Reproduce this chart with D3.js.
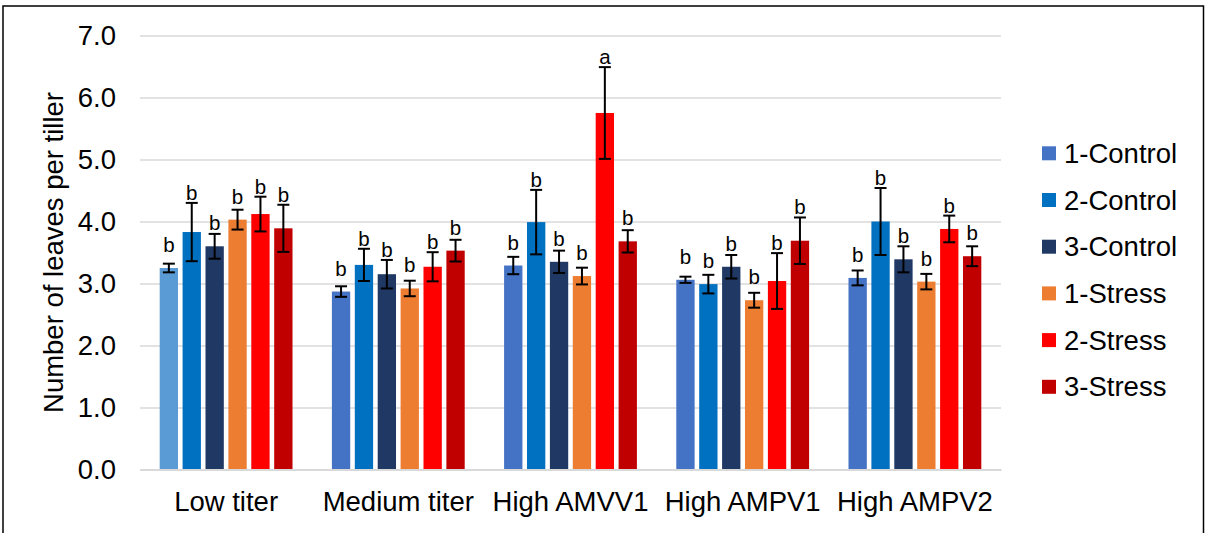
<!DOCTYPE html>
<html>
<head>
<meta charset="utf-8">
<script src="https://cdn.jsdelivr.net/npm/d3@7"></script>
<style>
  html, body { margin: 0; padding: 0; background: #fff; }
  svg { display: block; font-family: Arial, "Liberation Sans", sans-serif; }
</style>
</head>
<body>
<svg id="chart" width="1206" height="533"></svg>
<script>
// ---- data ----
const categories = ["Low titer", "Medium titer", "High AMVV1", "High AMPV1", "High AMPV2"];
const seriesNames = ["1-Control", "2-Control", "3-Control", "1-Stress", "2-Stress", "3-Stress"];
const control1 = [3.25, 2.87, 3.29, 3.06, 3.09];
const control2 = [3.83, 3.30, 3.99, 2.99, 4.00];
const control3 = [3.60, 3.15, 3.35, 3.27, 3.39];
const stress1  = [4.03, 2.92, 3.12, 2.73, 3.03];
const stress2  = [4.12, 3.27, 5.75, 3.04, 3.88];
const stress3  = [3.89, 3.53, 3.68, 3.69, 3.44];
const control1Err = [0.07, 0.085, 0.14, 0.05, 0.12];
const control2Err = [0.47, 0.26, 0.52, 0.15, 0.54];
const control3Err = [0.20, 0.23, 0.18, 0.19, 0.21];
const stress1Err  = [0.16, 0.125, 0.135, 0.12, 0.125];
const stress2Err  = [0.28, 0.235, 0.74, 0.45, 0.215];
const stress3Err  = [0.38, 0.175, 0.18, 0.375, 0.16];
const control1Sig = ["b", "b", "b", "b", "b"];
const control2Sig = ["b", "b", "b", "b", "b"];
const control3Sig = ["b", "b", "b", "b", "b"];
const stress1Sig  = ["b", "b", "b", "b", "b"];
const stress2Sig  = ["b", "b", "a", "b", "b"];
const stress3Sig  = ["b", "b", "b", "b", "b"];
const yTicks = [0, 1, 2, 3, 4, 5, 6, 7];
const yTitle = "Number of leaves per tiller";

// ---- styles ----
const colors = ["#4472C4", "#0070C0", "#203864", "#ED7D31", "#FF0000", "#C00000"];
const firstBarColorLowTiter = "#5B9BD5";
const bigFont = "27.5px";

const seriesValues = [control1, control2, control3, stress1, stress2, stress3];
const seriesErrs = [control1Err, control2Err, control3Err, stress1Err, stress2Err, stress3Err];
const seriesSig = [control1Sig, control2Sig, control3Sig, stress1Sig, stress2Sig, stress3Sig];

const rows = [];
categories.forEach((c, ci) => {
  seriesNames.forEach((s, si) => {
    rows.push({cat: c, ci, series: s, si, value: seriesValues[si][ci], err: seriesErrs[si][ci], sig: seriesSig[si][ci]});
  });
});

const svg = d3.select("#chart");

// border
svg.append("rect").attr("x", 3).attr("y", 6).attr("width", 1200.5).attr("height", 540)
  .attr("fill", "none").attr("stroke", "#000").attr("stroke-width", 1.5);

const plot = {left: 140, right: 1001, top: 35.5, bottom: 469.5};

const x0 = d3.scaleBand().domain(categories).range([plot.left, plot.right]).paddingInner(0).paddingOuter(0);
const x1 = d3.scaleBand().domain(seriesNames).range([0, x0.bandwidth()]).paddingInner(0.2).paddingOuter(0.86);
const y = d3.scaleLinear().domain([0, 7]).range([plot.bottom, plot.top]);

// gridlines
const yAxis = d3.axisLeft(y).tickValues(yTicks).tickFormat(d3.format(".1f"))
  .tickSize(-(plot.right - plot.left)).tickPadding(24);
const gy = svg.append("g").attr("transform", `translate(${plot.left},0)`).call(yAxis);
gy.select(".domain").remove();
gy.selectAll(".tick line").attr("stroke", "#D9D9D9").attr("stroke-width", 1.5);
gy.selectAll(".tick text").attr("fill", "#000").style("font-size", bigFont)
  .attr("font-family", "Arial, 'Liberation Sans', sans-serif");

// bars
const g = svg.append("g");
g.selectAll("rect.bar").data(rows).join("rect").attr("class", "bar")
  .attr("x", d => x0(d.cat) + x1(d.series))
  .attr("width", x1.bandwidth())
  .attr("y", d => y(d.value))
  .attr("height", d => y(0) - y(d.value))
  .attr("fill", d => (d.ci === 0 && d.si === 0) ? firstBarColorLowTiter : colors[d.si]);

// x axis line
const xAxis = d3.axisBottom(x0).tickSize(0).tickPadding(22);
const gx = svg.append("g").attr("transform", `translate(0,${plot.bottom})`).call(xAxis);
gx.select(".domain").attr("stroke", "#D9D9D9").attr("stroke-width", 2);
gx.selectAll(".tick text").attr("fill", "#000").style("font-size", bigFont)
  .attr("font-family", "Arial, 'Liberation Sans', sans-serif");

// error bars
const cap = 6;
const eb = g.selectAll("g.err").data(rows).join("g").attr("class", "err");
const cx = d => x0(d.cat) + x1(d.series) + x1.bandwidth() / 2;
eb.append("line").attr("x1", cx).attr("x2", cx)
  .attr("y1", d => y(d.value - d.err)).attr("y2", d => y(d.value + d.err))
  .attr("stroke", "#000").attr("stroke-width", 2);
eb.append("line").attr("x1", d => cx(d) - cap).attr("x2", d => cx(d) + cap)
  .attr("y1", d => y(d.value + d.err)).attr("y2", d => y(d.value + d.err))
  .attr("stroke", "#000").attr("stroke-width", 2);
eb.append("line").attr("x1", d => cx(d) - cap).attr("x2", d => cx(d) + cap)
  .attr("y1", d => y(d.value - d.err)).attr("y2", d => y(d.value - d.err))
  .attr("stroke", "#000").attr("stroke-width", 2);

// significance letters
g.selectAll("text.sig").data(rows).join("text").attr("class", "sig")
  .attr("x", cx)
  .attr("y", d => Math.min(y(d.value) - 16, y(d.value + d.err) - 3))
  .attr("text-anchor", "middle")
  .style("font-size", "20.5px").attr("fill", "#000")
  .text(d => d.sig);

// y title
svg.append("text")
  .attr("transform", `translate(63,${(plot.top + plot.bottom) / 2}) rotate(-90)`)
  .attr("text-anchor", "middle")
  .style("font-size", bigFont).attr("fill", "#000")
  .text(yTitle);

// legend
const legend = svg.append("g");
const lg = legend.selectAll("g").data(seriesNames).join("g")
  .attr("transform", (d, i) => `translate(1042,${153.3 + i * 46.7})`);
lg.append("rect").attr("x", 0).attr("y", -7).attr("width", 14).attr("height", 14)
  .attr("fill", (d, i) => colors[i]);
lg.append("text").attr("x", 22).attr("y", 0).attr("dy", "0.35em")
  .style("font-size", bigFont).attr("fill", "#000").text(d => d);
</script>
</body>
</html>
